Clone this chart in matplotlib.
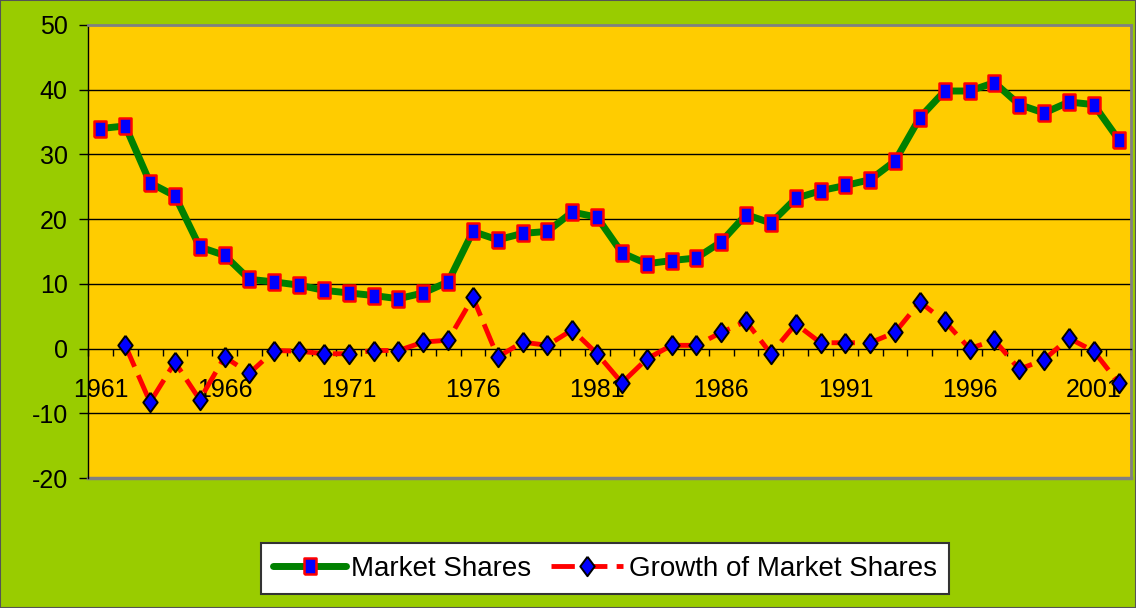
import numpy as np
import matplotlib
matplotlib.use("Agg")
import matplotlib.pyplot as plt
from matplotlib import font_manager as fm
from matplotlib.ticker import FixedLocator, NullFormatter
from matplotlib.patches import Rectangle

years = list(range(1961, 2003))
market_shares = [34.0, 34.4, 25.6, 23.6, 15.7, 14.4, 10.7, 10.3, 9.8, 9.0,
                 8.6, 8.2, 7.7, 8.6, 10.3, 18.1, 16.8, 17.8, 18.1, 21.1,
                 20.3, 14.8, 13.1, 13.6, 14.0, 16.5, 20.7, 19.4, 23.2, 24.4,
                 25.2, 26.1, 29.0, 35.7, 39.8, 39.8, 41.1, 37.7, 36.4, 38.1,
                 37.7, 32.3]
growth = [np.nan, 0.5, -8.3, -2.1, -7.9, -1.3, -3.8, -0.3, -0.4, -0.8,
          -0.8, -0.3, -0.3, 1.0, 1.3, 7.9, -1.3, 1.0, 0.5, 2.9,
          -0.8, -5.3, -1.6, 0.5, 0.5, 2.5, 4.2, -0.8, 3.8, 0.9,
          0.9, 0.9, 2.5, 7.2, 4.2, 0.0, 1.3, -3.2, -1.7, 1.6,
          -0.4, -5.3]
y_ticks = [-20, -10, 0, 10, 20, 30, 40, 50]
label_years = [1961, 1966, 1971, 1976, 1981, 1986, 1991, 1996, 2001]

names = {f.name for f in fm.fontManager.ttflist}
FONT = 'Liberation Sans Narrow' if 'Liberation Sans Narrow' in names else 'Liberation Sans'
narrow = FONT.endswith('Narrow')
plt.rcParams['font.family'] = [FONT, 'DejaVu Sans']
TICK_FS = 21 if narrow else 18
LEG_FS = 23 if narrow else 20

fig = plt.figure(figsize=(11.36, 6.08), dpi=100, facecolor='#99CC00')
ax = fig.add_axes([88/1136, 1 - 478/608, (1131-88)/1136, (478-25)/608])
ax.set_facecolor('#FFCC00')

x = np.arange(len(years))

sq = [(-0.4, -0.5), (0.4, -0.5), (0.4, 0.5), (-0.4, 0.5), (-0.4, -0.5)]
dm = [(0, 0.5), (0.37, 0), (0, -0.5), (-0.37, 0), (0, 0.5)]

ax.plot(x, market_shares, color='#008000', lw=5, marker=sq, markersize=11,
        markerfacecolor='#0000FF', markeredgecolor='#FF0000', markeredgewidth=1.8,
        solid_capstyle='round', label='Market Shares', zorder=5)
ax.plot(x, growth, color='#FF0000', lw=3.5, dashes=(4.8, 1.9), marker=dm,
        markersize=14, markerfacecolor='#0000FF', markeredgecolor='black',
        markeredgewidth=1.4, label='Growth of Market Shares', zorder=6)

ax.set_xlim(-0.5, len(years) - 0.5)
ax.set_ylim(-20, 50)

for g in [-10, 10, 20, 30, 40]:
    ax.axhline(g, color='black', lw=1, zorder=1)

ax.set_yticks(y_ticks)
ax.set_yticklabels([str(v) for v in y_ticks])
ax.tick_params(axis='y', direction='out', length=6.5, width=1, pad=8,
               labelsize=TICK_FS, colors='black')

ax.spines['bottom'].set_position(('data', 0))
ax.spines['bottom'].set_color('black')
ax.spines['bottom'].set_linewidth(1)
ax.spines['left'].set_color('black')
ax.spines['left'].set_linewidth(1)
for s in ['top', 'right']:
    ax.spines[s].set_color('#808080')
    ax.spines[s].set_linewidth(2)
ax.plot([0, 1], [0, 0], transform=ax.transAxes, color='#808080', lw=2.5,
        clip_on=False, zorder=2)

ax.xaxis.set_major_locator(FixedLocator([years.index(y) for y in label_years]))
ax.set_xticklabels([str(y) for y in label_years])
ax.xaxis.set_minor_locator(FixedLocator(np.arange(-0.5, len(years), 1.0)))
ax.xaxis.set_minor_formatter(NullFormatter())
ax.tick_params(axis='x', which='major', length=0, pad=21, labelsize=TICK_FS)
ax.tick_params(axis='x', which='minor', direction='out', length=5, width=1)

leg = fig.legend(loc='center', bbox_to_anchor=(605/1136, 39.5/608),
                 bbox_transform=fig.transFigure, ncol=2, fontsize=LEG_FS,
                 frameon=True, fancybox=False, framealpha=1, handlelength=2.6,
                 handletextpad=0.2, columnspacing=0.7, borderpad=0.45)
leg.get_frame().set_facecolor('white')
leg.get_frame().set_edgecolor('#333333')
leg.get_frame().set_linewidth(1.5)

fig.add_artist(Rectangle((0, 0), 1, 1, transform=fig.transFigure, fill=False,
                         edgecolor='#555555', lw=1.5))

fig.savefig('out.png', dpi=100, facecolor=fig.get_facecolor())
